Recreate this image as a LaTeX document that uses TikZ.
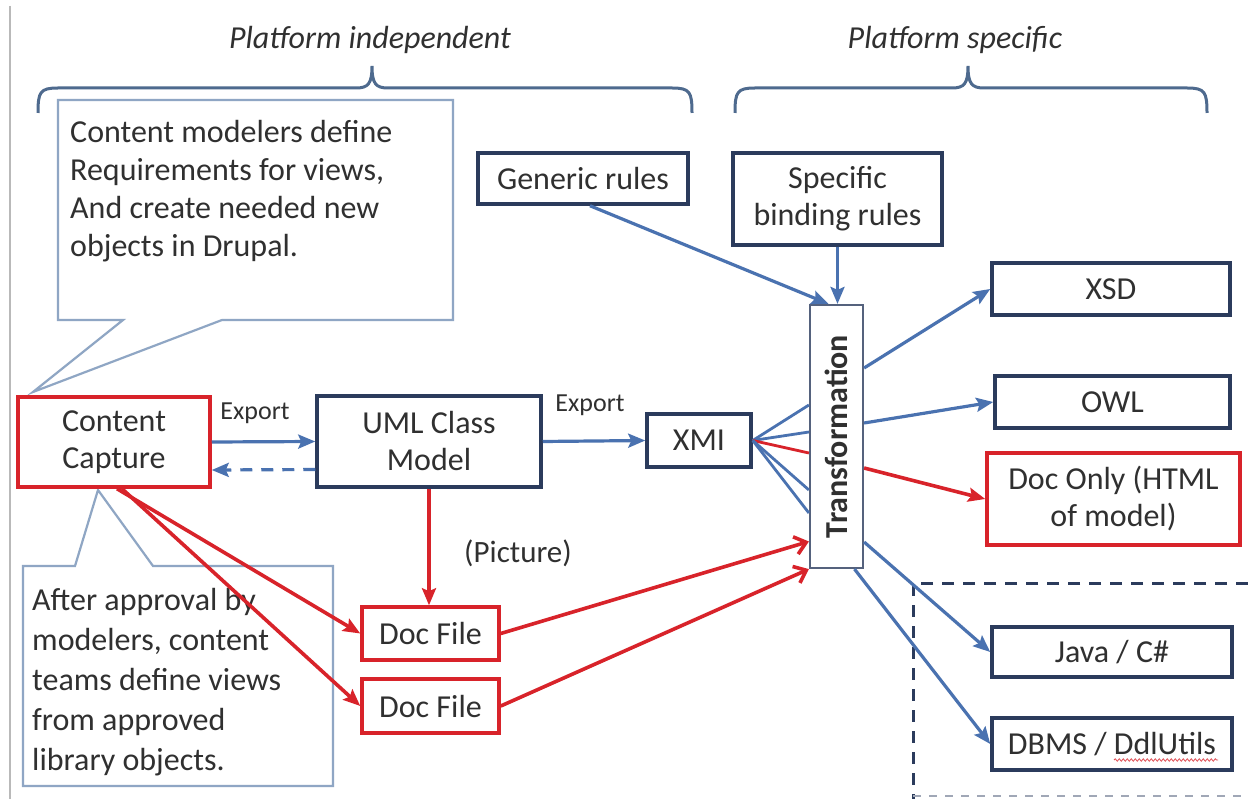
\documentclass[tikz,border=0pt]{standalone}
\usepackage{fontspec}
\setmainfont{Carlito}
\usetikzlibrary{arrows.meta,decorations.pathmorphing}
\definecolor{boxline}{HTML}{2B3B5C}
\definecolor{arrowblue}{HTML}{4A72B0}
\definecolor{redline}{HTML}{D8232A}
\definecolor{callline}{HTML}{8FA6C4}
\definecolor{bracecol}{HTML}{4E6A8E}
\definecolor{txt}{HTML}{303030}
\begin{document}
\begin{tikzpicture}[x=1pt,y=-1pt,
  font=\fontsize{32}{38}\selectfont, text=txt,
  box/.style={draw=boxline, line width=3.5pt, fill=white, inner sep=0pt,
    align=center, font=\fontsize{32}{37}\selectfont},
  redbox/.style={box, draw=redline},
  barrow/.style={draw=arrowblue, line width=3.2pt,
    -{Stealth[length=17pt,width=14pt,inset=3pt]}},
  bline/.style={draw=arrowblue, line width=2.8pt},
  rarrow/.style={draw=redline, line width=3.6pt,
    -{Stealth[length=17pt,width=14pt,inset=3pt]}},
  rbarb/.style={draw=redline, line width=3.6pt,
    -{Straight Barb[length=11pt,width=18pt]}},
  callout/.style={draw=callline, line width=2.2pt, fill=white, line join=miter},
  brace/.style={draw=bracecol, line width=3pt},
  small/.style={font=\fontsize{26}{30}\selectfont},
]
\useasboundingbox (0,0) rectangle (1248,799);
\fill[white] (0,0) rectangle (1248,799);

% page margin rule
\draw[gray!55, line width=1.5pt] (10,6) -- (10,799);

% group braces and headings
\draw[brace] (38,113) .. controls (38,92) and (40,88) .. (58,88) -- (356,88)
  .. controls (368,88) and (372,84) .. (372,66)
  .. controls (372,84) and (376,88) .. (388,88) -- (672,88)
  .. controls (690,88) and (692,92) .. (692,113);
\draw[brace] (735,113) .. controls (735,92) and (737,88) .. (755,88) -- (952,88)
  .. controls (964,88) and (968,84) .. (968,66)
  .. controls (968,84) and (972,88) .. (984,88) -- (1187,88)
  .. controls (1205,88) and (1207,92) .. (1207,113);
\node[font=\itshape\fontsize{32}{38}\selectfont] (indep) at (370,40) {Platform independent};
\node[font=\itshape\fontsize{32}{38}\selectfont] (spec-head) at (955,40) {Platform specific};

% callouts
\draw[callout] (58,100) -- (453,100) -- (453,320) -- (222,320) -- (33,392)
  -- (123,320) -- (58,320) -- cycle;
\node[anchor=north west, inner sep=0pt, align=left] (note1) at (70,120)
  {Content modelers define\\Requirements for views,\\And create needed new\\objects in Drupal.};
\draw[callout] (23,566) -- (75,566) -- (98,490) -- (153,566) -- (333,566)
  -- (333,786) -- (23,786) -- cycle;
\node[anchor=north west, inner sep=0pt, align=left, font=\fontsize{32}{40}\selectfont] (note2) at (32,588)
  {After approval by\\modelers, content\\teams define views\\from approved\\library objects.};

% dashed region for generated code
\draw[boxline, line width=3pt, dash pattern=on 12pt off 9pt] (1248,583) -- (913,583) -- (913,799);
\draw[boxline!45, line width=1.5pt, dash pattern=on 8pt off 8pt] (913,796) -- (1248,796);

% boxes
\node[redbox, minimum width=192, minimum height=90] (cc) at (114,442) {Content\\Capture};
\node[box, minimum width=224, minimum height=91] (uml) at (429,441.5) {UML Class\\Model};
\node[box, minimum width=104, minimum height=53] (xmi) at (699,440.5) {XMI};
\node[box, draw=boxline!80, line width=2.2pt, minimum width=53, minimum height=263] (trans) at (836.5,436.5) {};
\node[rotate=90, font=\bfseries\fontsize{32}{38}\selectfont] (transtxt) at (trans.center) {Transformation};
\node[box, minimum width=210, minimum height=51] (gen) at (583,178.5) {Generic rules};
\node[box, minimum width=209, minimum height=92] (spec) at (837.5,199) {Specific\\binding rules};
\node[box, minimum width=238, minimum height=52] (xsd) at (1111,289) {XSD};
\node[box, minimum width=235, minimum height=52] (owl) at (1112.5,402) {OWL};
\node[redbox, minimum width=253, minimum height=92] (doconly) at (1113.5,499) {Doc Only (HTML\\of model)};
\node[box, minimum width=240, minimum height=50] (java) at (1112,652) {Java / C\#};
\node[box, minimum width=240, minimum height=52] (dbms) at (1112,744) {DBMS / DdlUtils};
\node[redbox, minimum width=137, minimum height=53] (doc1) at (430.5,633.5) {Doc File};
\node[redbox, minimum width=137, minimum height=54] (doc2) at (430.5,706) {Doc File};

% spell-check squiggle under DdlUtils
\coordinate (sqa) at (1114,760);
\coordinate (sqb) at (1218,760);
\draw[redline!80, line width=0.8pt, decorate,
  decoration={snake, amplitude=1.2pt, segment length=4pt}] (sqa) -- (sqb);

% edge labels
\node[small] (exp1) at (255,413) {Export};
\node[small] (exp2) at (590,405) {Export};
\node[font=\fontsize{31}{36}\selectfont] (pic) at (518,553) {(Picture)};

% export chain
\draw[barrow] (cc.east) -- (uml.west);
\draw[barrow, dash pattern=on 12pt off 9pt] ([yshift=-28pt]uml.west) -- ([yshift=-28pt]cc.east);
\draw[barrow] (uml.east) -- (xmi.west);

% rules into the transformation
\draw[barrow] ([xshift=7pt]gen.south) -- ([xshift=-8pt]trans.north);
\draw[barrow] (spec.south) -- (spec.south |- trans.north);

% XMI fan into the transformation
\draw[bline] (xmi.east) -- ([yshift=31.5pt]trans.west);
\draw[bline] (xmi.east) -- ([yshift=4.5pt]trans.west);
\draw[draw=redline, line width=2.8pt] (xmi.east) -- ([yshift=-16.5pt]trans.west);
\draw[bline] (xmi.east) -- ([yshift=-53.5pt]trans.west);
\draw[bline] (xmi.east) -- ([yshift=-76.5pt]trans.west);

% outputs of the transformation
\draw[barrow] ([yshift=68.5pt]trans.east) -- (xsd.west);
\draw[barrow] ([yshift=13.5pt]trans.east) -- (owl.west);
\draw[rarrow] ([yshift=-31.5pt]trans.east) -- (doconly.west);
\draw[barrow] ([yshift=-105.5pt]trans.east) -- (java.west);
\draw[barrow] ([xshift=18pt]trans.south) -- (dbms.west);

% document files
\draw[rarrow] ([xshift=3pt]cc.south) -- (doc1.west);
\draw[rarrow] ([xshift=8pt]cc.south) -- (doc2.west);
\draw[rarrow] (uml.south) -- (uml.south |- doc1.north);
\draw[rbarb] (doc1.east) -- ([yshift=-105pt]trans.west);
\draw[rbarb] (doc2.east) -- (trans.south west);
\end{tikzpicture}
\end{document}
